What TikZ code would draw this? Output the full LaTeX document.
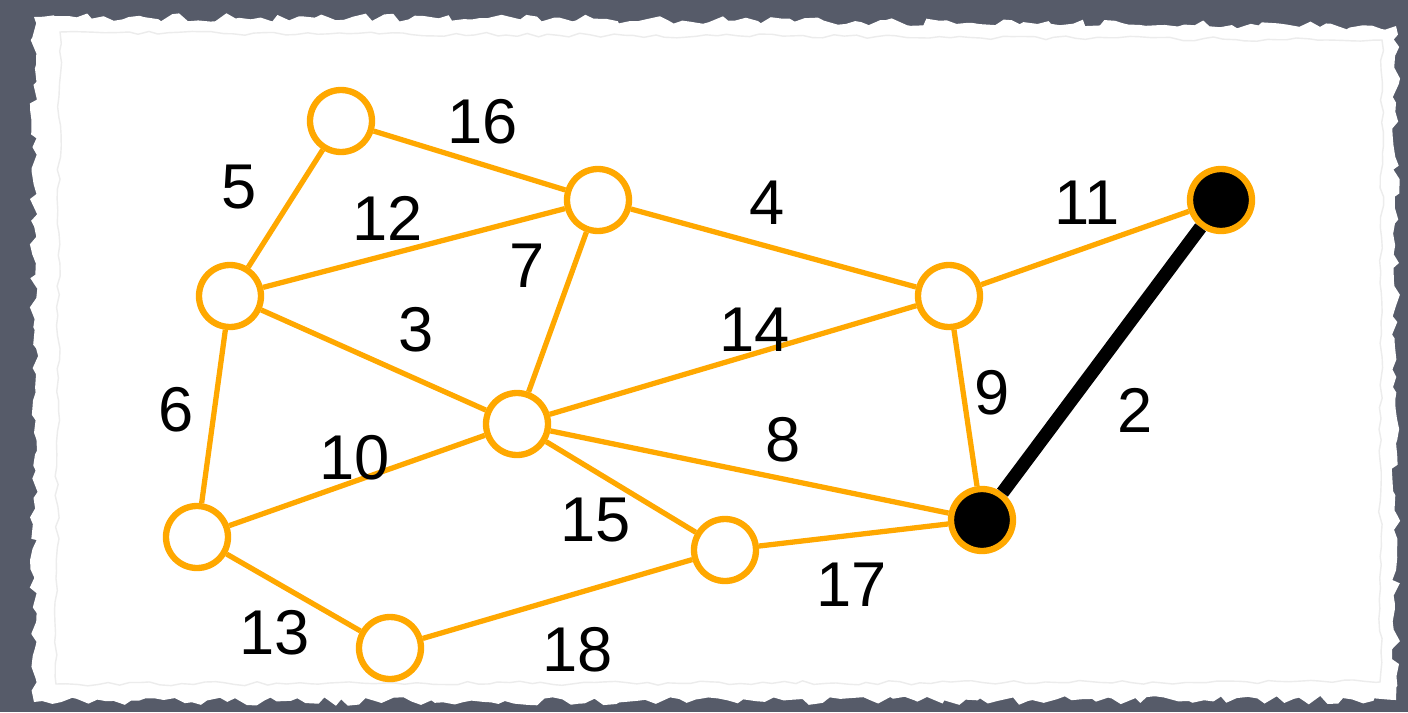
\documentclass[tikz,border=0pt]{standalone}
\usepackage{fontspec}
\setmainfont{Liberation Sans}
\usetikzlibrary{decorations.pathmorphing}
\definecolor{edgeorange}{RGB}{255,168,0}
\definecolor{slate}{RGB}{86,91,105}

\begin{document}
\begin{tikzpicture}[vertex/.style={circle, draw=edgeorange, line width=1.8pt, fill=white, minimum size=6.2mm, inner sep=0pt}, chosen/.style={vertex, fill=black}, wedge/.style={draw=edgeorange, line width=1.5pt}, treeedge/.style={draw=black, line width=3.8pt}, lbl/.style={font=\fontsize{18}{20}\selectfont, inner sep=0pt}]
    \pgfmathsetseed{7}
    % backdrop and torn paper
    \fill[slate] (0,0) rectangle (14.08,7.12);
    \useasboundingbox (0,0) rectangle (14.08,7.12);
    \fill[white, decorate, decoration={random steps, segment length=2.5pt, amplitude=1.2pt}] (0.34,0.10) -- (13.96,0.12) -- (13.96,6.86) -- (4.8,6.94) -- (0.34,6.95) -- cycle;
    \draw[gray!15, thin, decorate, decoration={random steps, segment length=3pt, amplitude=0.6pt}] (0.56,0.28) -- (13.80,0.30) -- (13.82,6.72) -- (0.60,6.80) -- cycle;

    \node[vertex] (a) at (3.41,5.91) {};
    \node[vertex] (b) at (5.98,5.12) {};
    \node[vertex] (c) at (2.30,4.16) {};
    \node[vertex] (d) at (9.49,4.16) {};
    \node[chosen] (e) at (12.21,5.12) {};
    \node[vertex] (f) at (5.17,2.88) {};
    \node[vertex] (g) at (1.97,1.75) {};
    \node[vertex] (h) at (7.25,1.62) {};
    \node[chosen] (i) at (9.82,1.92) {};
    \node[vertex] (j) at (3.90,0.64) {};

    \draw[wedge] (a) -- (b);
    \draw[wedge] (a) -- (c);
    \draw[wedge] (c) -- (b);
    \draw[wedge] (b) -- (d);
    \draw[wedge] (d) -- (e);
    \draw[wedge] (c) -- (f);
    \draw[wedge] (b) -- (f);
    \draw[wedge] (f) -- (d);
    \draw[wedge] (d) -- (i);
    \draw[wedge] (f) -- (i);
    \draw[wedge] (c) -- (g);
    \draw[wedge] (g) -- (f);
    \draw[wedge] (f) -- (h);
    \draw[wedge] (h) -- (i);
    \draw[wedge] (g) -- (j);
    \draw[wedge] (j) -- (h);
    \draw[treeedge] (e) -- (i);

    \node[lbl] (w16) at (4.83,5.90) {16};
    \node[lbl] (w5) at (2.39,5.25) {5};
    \node[lbl] (w12) at (3.88,4.94) {12};
    \node[lbl] (w4) at (7.67,5.09) {4};
    \node[lbl] (w11) at (10.87,5.09) {11};
    \node[lbl] (w7) at (5.27,4.46) {7};
    \node[lbl] (w3) at (4.16,3.82) {3};
    \node[lbl] (w14) at (7.55,3.82) {14};
    \node[lbl] (w9) at (9.92,3.19) {9};
    \node[lbl] (w2) at (11.35,3.02) {2};
    \node[lbl] (w6) at (1.76,3.02) {6};
    \node[lbl] (w10) at (3.55,2.54) {10};
    \node[lbl] (w8) at (7.83,2.72) {8};
    \node[lbl] (w15) at (5.96,1.92) {15};
    \node[lbl] (w17) at (8.52,1.27) {17};
    \node[lbl] (w13) at (2.75,0.79) {13};
    \node[lbl] (w18) at (5.78,0.62) {18};
\end{tikzpicture}
\end{document}
